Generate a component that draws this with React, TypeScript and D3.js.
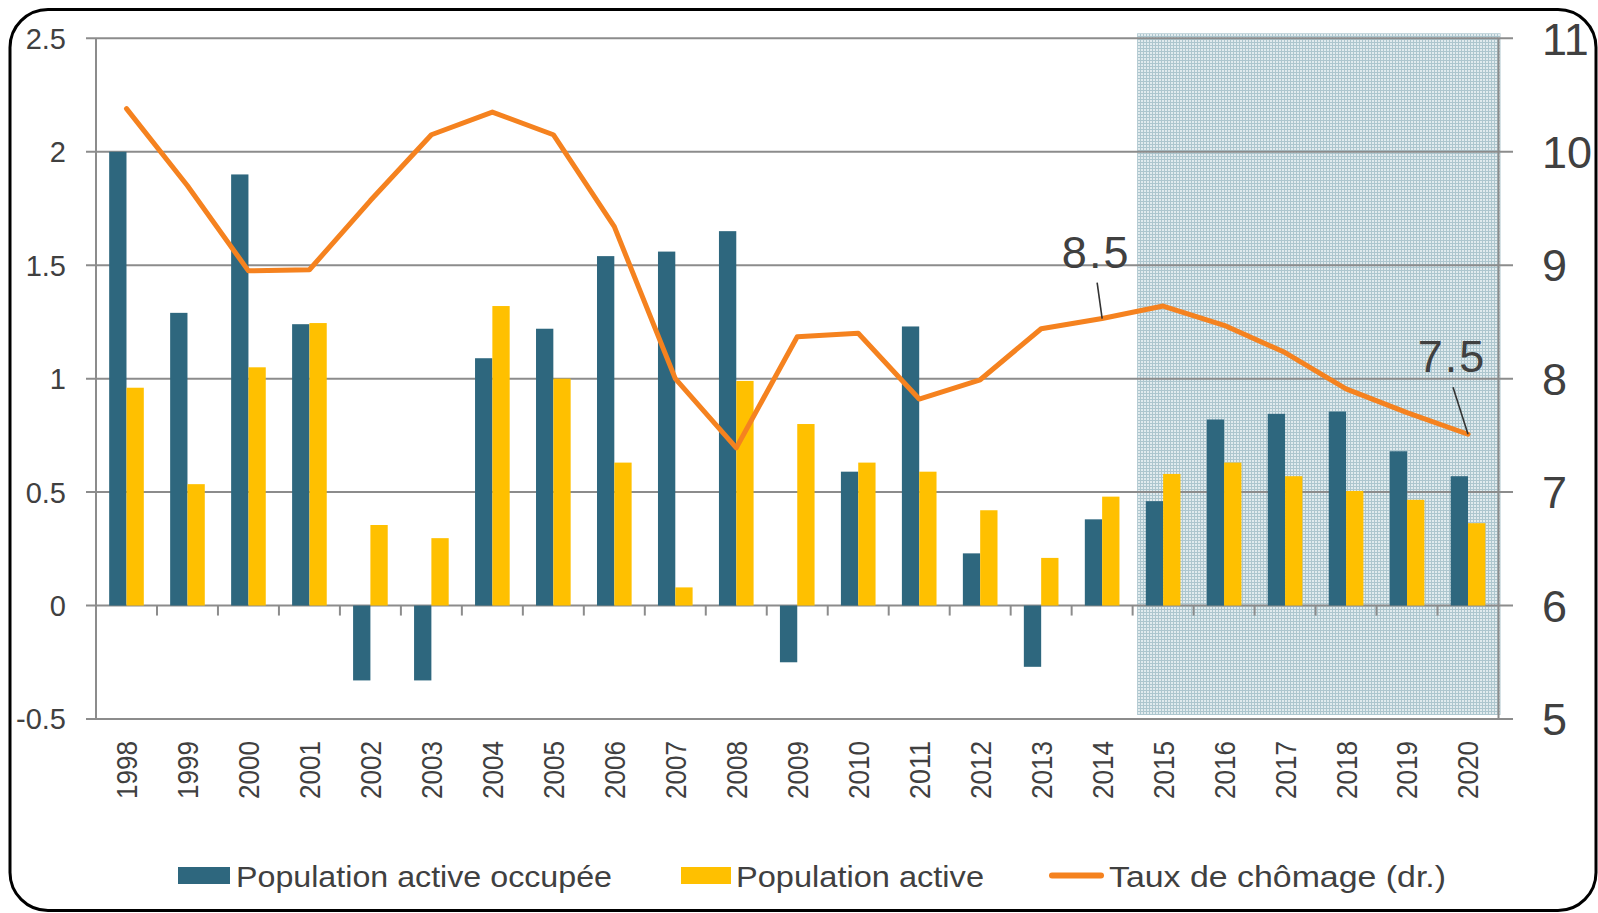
import * as d3 from "d3";

const years = ["1998", "1999", "2000", "2001", "2002", "2003", "2004", "2005", "2006", "2007", "2008",
  "2009", "2010", "2011", "2012", "2013", "2014", "2015", "2016", "2017", "2018", "2019", "2020"];

// population active occupée (left axis)
const occupied = [2.0, 1.29, 1.9, 1.24, -0.33, -0.33, 1.09, 1.22, 1.54, 1.56, 1.65,
  -0.25, 0.59, 1.23, 0.23, -0.27, 0.38, 0.46, 0.82, 0.845, 0.855, 0.68, 0.57];

// population active (left axis)
const active = [0.96, 0.535, 1.05, 1.245, 0.355, 0.297, 1.32, 1.0, 0.63, 0.08, 0.99,
  0.8, 0.63, 0.59, 0.42, 0.21, 0.48, 0.58, 0.63, 0.57, 0.505, 0.466, 0.363];

// taux de chômage (right axis)
const unemployment = [10.38, 9.7, 8.95, 8.96, 9.57, 10.15, 10.35, 10.15, 9.34, 8.0, 7.39,
  8.37, 8.4, 7.82, 7.99, 8.44, 8.53, 8.64, 8.47, 8.23, 7.91, 7.7, 7.51];

const leftTicks = [-0.5, 0, 0.5, 1, 1.5, 2, 2.5];
const leftTickLabels = ["-0.5", "0", "0.5", "1", "1.5", "2", "2.5"];
const rightTicks = [5, 6, 7, 8, 9, 10, 11];

const forecastStart = "2015";
const labels = [
  { year: "2014", text: "8.5" },
  { year: "2020", text: "7.5" },
];

const seriesNames = ["Population active occupée", "Population active", "Taux de chômage (dr.)"];

const W = 1598;
const H = 913;
const left = 96;
const right = 1498.5;
const top = 38.3;
const bottom = 719;

const textColor = "#404040";
const gridColor = "#8c8c8c";
const teal = "#2e677e";
const yellow = "#ffc000";
const orange = "#f5821f";
const font = "'Liberation Sans', Arial, sans-serif";

export default function App() {
  const x = d3.scaleBand().domain(years).range([left, right]).padding(0);
  const bw = x.bandwidth();
  const x1 = d3.scaleBand().domain(["occ", "act"]).range([bw * 0.216, bw * 0.784]).padding(0);
  const yL = d3.scaleLinear().domain([-0.5, 2.5]).range([bottom, top]);
  const yR = d3.scaleLinear().domain([5, 11]).range([bottom, top]);

  const line = d3.line<number>()
    .x((_, i) => (x(years[i]) as number) + bw / 2)
    .y((d) => yR(d));

  const shadeX = (x(forecastStart) as number) + 4.5;

  return (
    <svg width={W} height={H} style={{ position: "absolute", left: 0, top: 0 }} fontFamily={font}>
      <defs>
        <pattern id="checks" width={3} height={3} patternUnits="userSpaceOnUse">
          <rect width={3} height={3} fill="#e1ebee" />
          <rect width={3} height={1} fill="#adc6ce" />
          <rect width={1} height={3} fill="#adc6ce" />
        </pattern>
      </defs>
      <rect x={0} y={0} width={W} height={H} fill="#fff" />
      <rect x={10} y={9.5} width={1586} height={901} rx={38} ry={38} fill="#fff" stroke="#000" strokeWidth={3} />

      {/* forecast shading */}
      <rect x={shadeX} y={33.3} width={right + 2 - shadeX} height={715 - 33.3} fill="url(#checks)" />

      {/* gridlines */}
      {leftTicks.map((t) => (
        <line key={t} x1={86} x2={1513} y1={yL(t)} y2={yL(t)} stroke={gridColor} strokeWidth={2} />
      ))}
      <line x1={left} x2={left} y1={top} y2={bottom} stroke={gridColor} strokeWidth={2} />
      <line x1={right} x2={right} y1={top} y2={bottom} stroke={gridColor} strokeWidth={2} />
      {years.slice(1).map((yr) => (
        <line key={yr} x1={x(yr)} x2={x(yr)} y1={yL(0)} y2={yL(0) + 10} stroke={gridColor} strokeWidth={2} />
      ))}

      {/* bars */}
      {years.map((yr, i) => (
        <g key={yr} transform={`translate(${x(yr)},0)`}>
          <rect x={x1("occ")} width={x1.bandwidth()} y={yL(Math.max(0, occupied[i]))}
            height={Math.abs(yL(occupied[i]) - yL(0))} fill={teal} />
          <rect x={x1("act")} width={x1.bandwidth()} y={yL(Math.max(0, active[i]))}
            height={Math.abs(yL(active[i]) - yL(0))} fill={yellow} />
        </g>
      ))}

      {/* unemployment line */}
      <path d={line(unemployment) || ""} fill="none" stroke={orange} strokeWidth={5} strokeLinejoin="round" strokeLinecap="round" />

      {/* annotations */}
      {labels.map((l) => {
        const i = years.indexOf(l.year);
        const cx = (x(l.year) as number) + bw / 2;
        const cy = yR(unemployment[i]);
        const tx = l.year === "2020" ? cx - 16 : cx - 6;
        const ty = l.year === "2020" ? cy - 62 : cy - 51;
        return (
          <g key={l.year}>
            <line x1={tx + 1} y1={ty + 15} x2={cx} y2={cy} stroke="#333" strokeWidth={1.6} />
            <text x={tx} y={ty} textAnchor="middle" fontSize={45} fill={textColor} letterSpacing={2}>{l.text}</text>
          </g>
        );
      })}

      {/* left axis labels */}
      {leftTicks.map((t, i) => (
        <text key={t} x={66} y={yL(t)} dy="0.36em" textAnchor="end" fontSize={29} fill={textColor}>{leftTickLabels[i]}</text>
      ))}

      {/* right axis labels */}
      {rightTicks.map((t) => (
        <text key={t} x={1542} y={yR(t)} dy="0.36em" textAnchor="start" fontSize={45} fill={textColor}>{t}</text>
      ))}

      {/* x labels */}
      {years.map((yr) => {
        const cx = (x(yr) as number) + bw / 2;
        return (
          <text key={yr} transform={`translate(${cx},741) rotate(-90)`} textAnchor="end" dy="0.36em"
            fontSize={29} textLength={58} lengthAdjust="spacingAndGlyphs" fill={textColor}>{yr}</text>
        );
      })}

      {/* legend */}
      <g fontSize={30} fill={textColor}>
        <rect x={178} y={867} width={52} height={17} fill={teal} />
        <text x={236} y={887} textLength={376} lengthAdjust="spacingAndGlyphs">{seriesNames[0]}</text>
        <rect x={681} y={867} width={50} height={17} fill={yellow} />
        <text x={736} y={887} textLength={248} lengthAdjust="spacingAndGlyphs">{seriesNames[1]}</text>
        <line x1={1052} x2={1101} y1={875.5} y2={875.5} stroke={orange} strokeWidth={6} strokeLinecap="round" />
        <text x={1109} y={887} textLength={337} lengthAdjust="spacingAndGlyphs">{seriesNames[2]}</text>
      </g>
    </svg>
  );
}
